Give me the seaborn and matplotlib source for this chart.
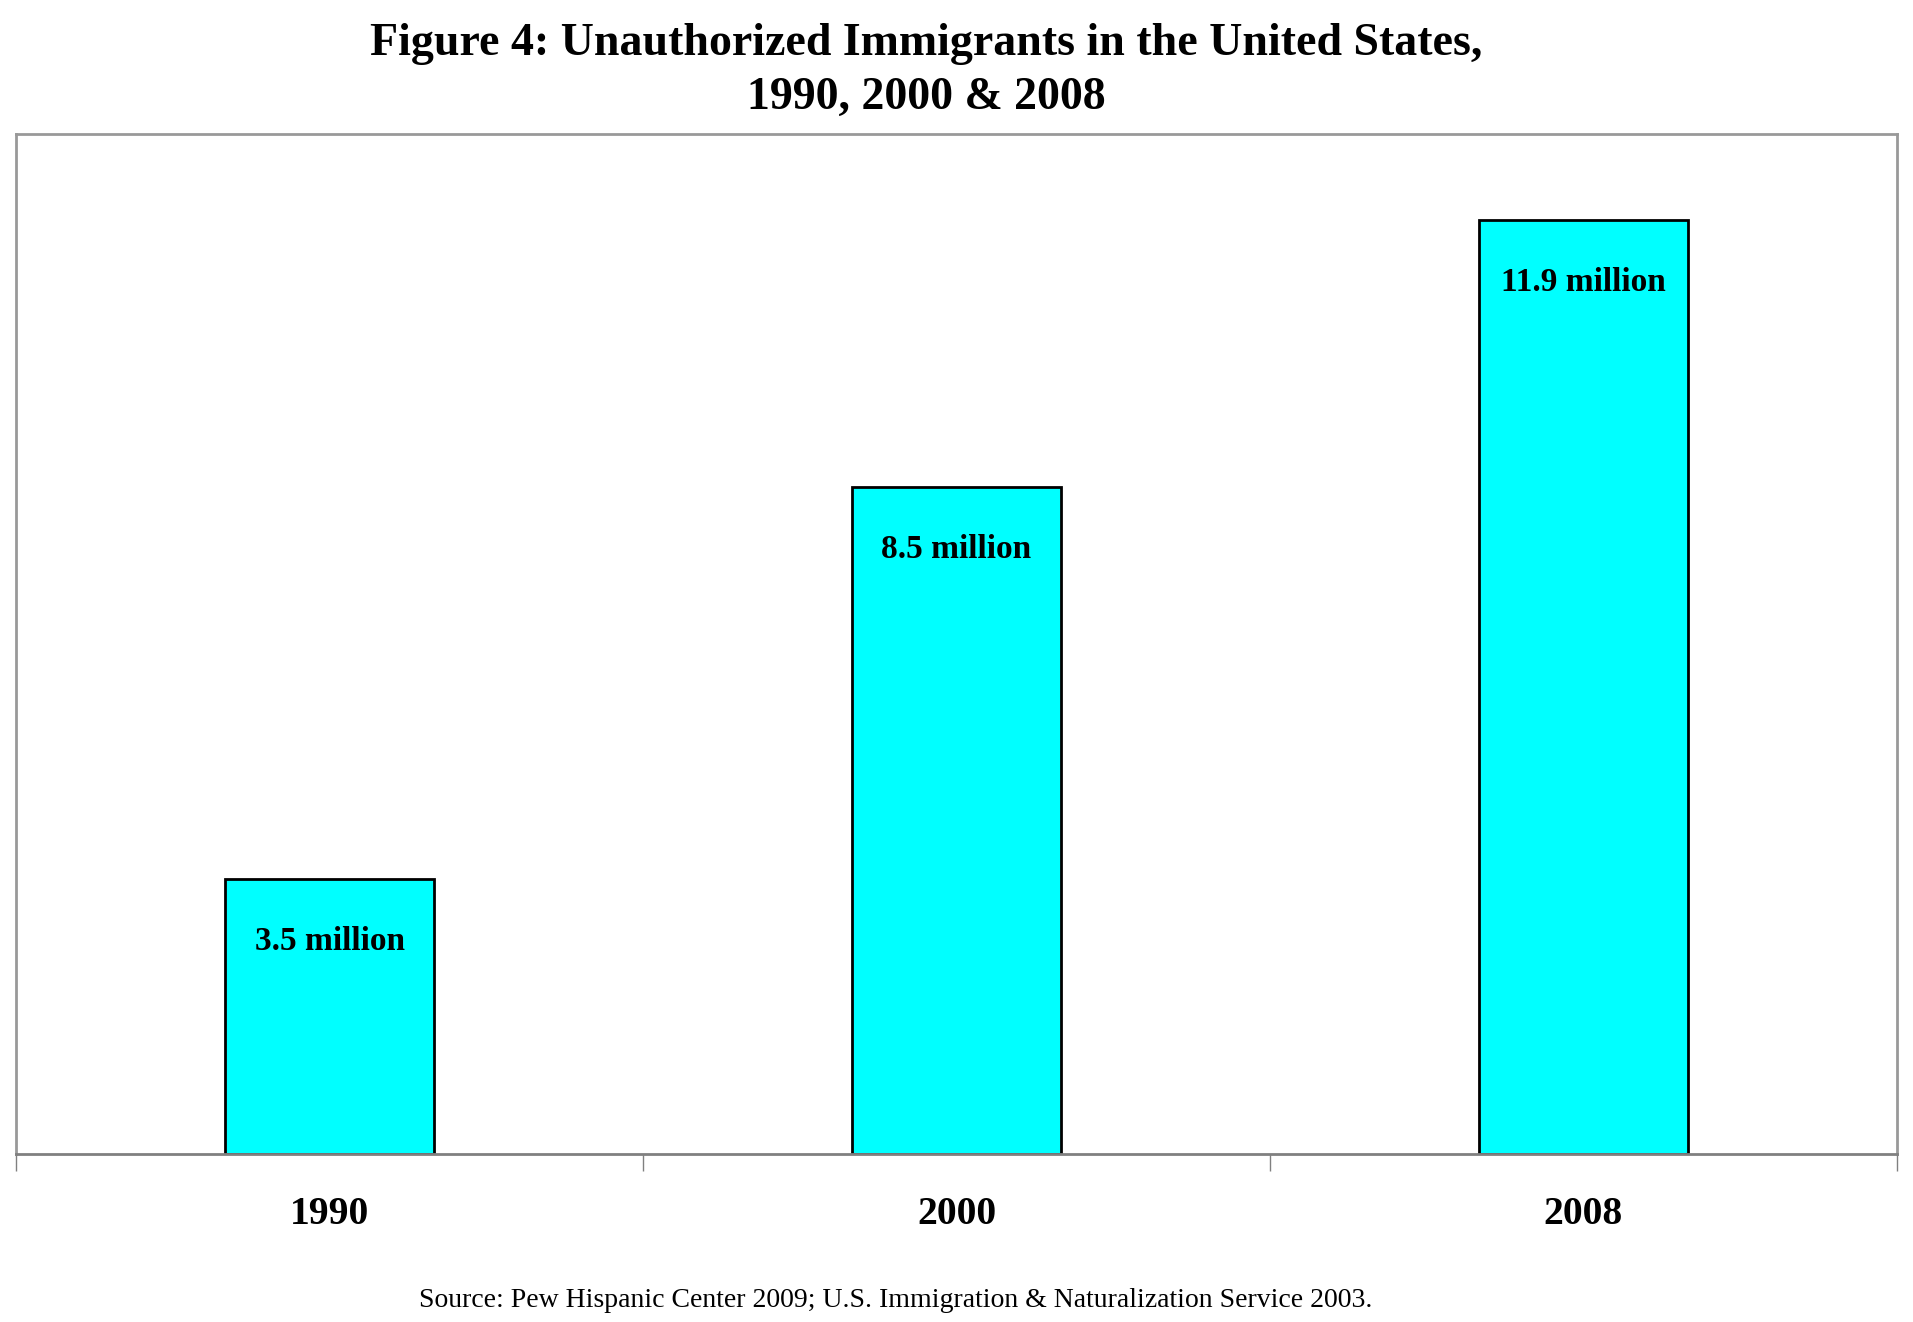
import matplotlib
matplotlib.use("Agg")
import matplotlib.pyplot as plt
import seaborn as sns
import pandas as pd

years = ["1990", "2000", "2008"]
immigrants = [3.5, 8.5, 11.9]
bar_labels = ["3.5 million", "8.5 million", "11.9 million"]

sns.set_style("white")
plt.rcParams["font.family"] = ["Liberation Serif", "DejaVu Serif"]
plt.rcParams["text.color"] = "black"
plt.rcParams["xtick.color"] = "black"

df = pd.DataFrame({"year": years, "millions": immigrants})

fig = plt.figure(figsize=(19.13, 13.22), dpi=100)
ax = fig.add_axes([0.0084, 0.1271, 0.9832, 0.7715])

sns.barplot(data=df, x="year", y="millions", color="#00FFFF", saturation=1,
            width=1 / 3, edgecolor="black", linewidth=2, ax=ax)

ax.set_ylim(0, 13)
ax.set_xlim(-0.5, 2.5)
ax.set_xlabel("")
ax.set_ylabel("")
ax.set_yticks([])

for i, (v, lab) in enumerate(zip(immigrants, bar_labels)):
    ax.annotate(lab, (i, v), xytext=(0, -45), textcoords="offset points",
                ha="center", va="center", fontsize=24, fontweight="bold",
                color="black")

ax.set_xticks([0, 1, 2])
ax.set_xticklabels(years, fontsize=28.5, fontweight="bold", color="black")
ax.set_xticks([-0.5, 0.5, 1.5, 2.5], minor=True)
ax.tick_params(axis="x", which="major", bottom=True, length=0, pad=30)
ax.tick_params(axis="x", which="minor", bottom=True, length=12, width=1,
               color="#808080", direction="out")

for side in ["left", "right", "top", "bottom"]:
    ax.spines[side].set_visible(True)
    ax.spines[side].set_color("#999999")
    ax.spines[side].set_linewidth(2)
ax.spines["bottom"].set_color("#808080")

fig.text(0.484, 0.967, "Figure 4: Unauthorized Immigrants in the United States,",
         ha="center", va="center", fontsize=33, fontweight="bold")
fig.text(0.484, 0.926, "1990, 2000 & 2008",
         ha="center", va="center", fontsize=33, fontweight="bold")
fig.text(0.468, 0.016,
         "Source: Pew Hispanic Center 2009; U.S. Immigration & Naturalization Service 2003.",
         ha="center", va="center", fontsize=20)

fig.savefig("out.png", dpi=100)
